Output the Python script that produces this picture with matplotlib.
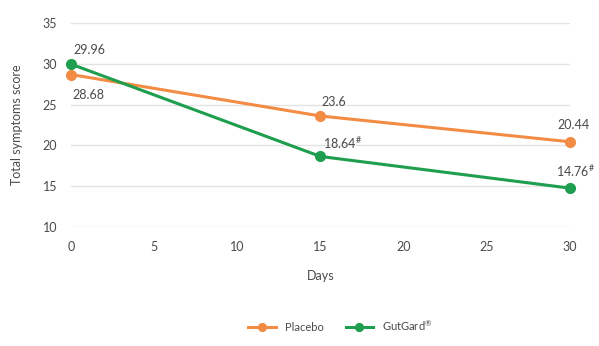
import matplotlib.pyplot as plt

days = [0, 15, 30]
placebo = [28.68, 23.6, 20.44]
gutgard = [29.96, 18.64, 14.76]
placebo_labels = ['28.68', '23.6', '20.44']
gutgard_labels = ['29.96', r'18.64$^{\#}$', r'14.76$^{\#}$']

orange = '#F28C45'
green = '#1E9E4E'
text_col = '#4a4a4a'

plt.rcParams['font.family'] = ['Lato', 'DejaVu Sans']
plt.rcParams['mathtext.fontset'] = 'custom'
plt.rcParams['mathtext.rm'] = 'Lato'
plt.rcParams['mathtext.default'] = 'rm'

fig = plt.figure(figsize=(5.99, 3.46), dpi=100)
ax = fig.add_axes([0.1185, 0.344, 0.833, 0.5896])

ax.plot(days, placebo, color=orange, lw=2.2, marker='o', ms=7, label='Placebo', clip_on=False, zorder=3)
ax.plot(days, gutgard, color=green, lw=2.2, marker='o', ms=7, label='GutGard$^{\u00ae}$', clip_on=False, zorder=3)

# value labels, offsets in points
placebo_off = [(1, -15), (1, 10), (-9, 12)]
gutgard_off = [(2, 10), (2, 10), (-10, 12)]
for x, y, s, off in zip(days, placebo, placebo_labels, placebo_off):
    ax.annotate(s, (x, y), xytext=off, textcoords='offset points', fontsize=9, color=text_col, ha='left', va='center')
for x, y, s, off in zip(days, gutgard, gutgard_labels, gutgard_off):
    ax.annotate(s, (x, y), xytext=off, textcoords='offset points', fontsize=9, color=text_col, ha='left', va='center')

ax.set_xlim(0, 30)
ax.set_ylim(10, 35)
ax.set_xticks([0, 5, 10, 15, 20, 25, 30])
ax.set_yticks([10, 15, 20, 25, 30, 35])
ax.grid(axis='y', color='#E3E3E3', lw=1)
ax.set_axisbelow(True)
for sp in ax.spines.values():
    sp.set_visible(False)
ax.tick_params(length=0, labelsize=9, colors=text_col)
ax.tick_params(axis='x', pad=10)
ax.tick_params(axis='y', pad=10)

ax.set_xlabel('Days', fontsize=9, color=text_col, labelpad=12)
ax.set_ylabel('Total symptoms score', fontsize=9, color=text_col, labelpad=14)

fig.legend(loc='center', bbox_to_anchor=(0.568, 0.058), ncol=2, frameon=False,
           fontsize=8, labelcolor=text_col, handlelength=2.5, markerscale=0.8, columnspacing=2)

fig.savefig('out.png', dpi=100)
